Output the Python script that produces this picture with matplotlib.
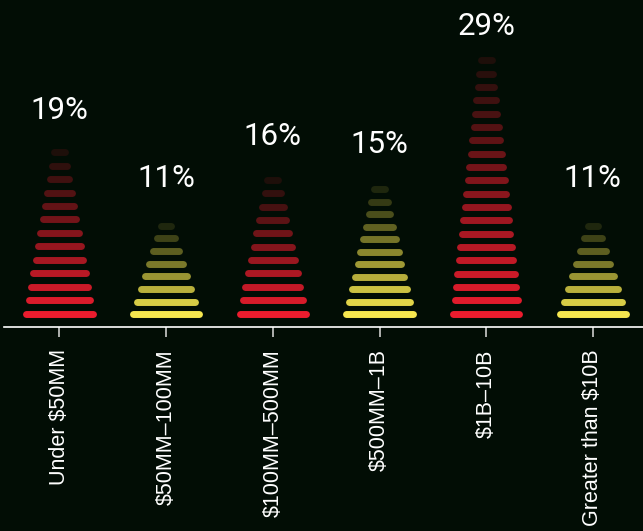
import matplotlib
matplotlib.use("Agg")
import matplotlib.pyplot as plt
import numpy as np
from matplotlib.colors import to_rgb

# data
categories = ["Under $50MM", "$50MM\u2013100MM", "$100MM\u2013500MM",
              "$500MM\u20131B", "$1B\u201310B", "Greater than $10B"]
values = [19, 11, 16, 15, 29, 11]
stripes = [13, 8, 11, 11, 20, 8]
bar_colors = ["#ec1c2e", "#f6e74f", "#ec1c2e", "#f6e74f", "#ec1c2e", "#f6e74f"]

bg = "#020d05"


def fade(color, t):
    # blend colour toward the background, t=1 full colour
    c = np.array(to_rgb(color))
    b = np.array(to_rgb(bg))
    return tuple(b + (c - b) * t)


fig = plt.figure(figsize=(6.43, 5.31), dpi=100, facecolor=bg)
ax = fig.add_axes([4 / 643, 1 - 327 / 531, 639 / 643, 327 / 531])
ax.set_facecolor(bg)

lw_pt = 5.0
cap = lw_pt * 100 / 72 / 106.7  # half cap width in data units (both caps)

for i, (v, n, col) in enumerate(zip(values, stripes, bar_colors)):
    for k in range(n):
        y = v * (k + 1) / n
        frac = k / (n - 1)
        width = 0.685 - (0.685 - 0.165) * frac
        half = (width - cap) / 2
        ax.plot([i - half, i + half], [y, y], color=fade(col, 1 - 0.88 * frac),
                lw=lw_pt, solid_capstyle="round")
    ax.text(i, 0.92 * v + 6, f"{v}%", ha="center", va="center",
            color="white", fontsize=22.5, family="Roboto")

ax.set_xlim(-0.52, 5.47)
ax.set_ylim(0, 327 / 9.2)
ax.set_xticks(range(len(categories)))
ax.set_xticklabels(categories, rotation=90, color="white", fontsize=15.5,
                   family="Liberation Sans", va="top")
ax.tick_params(axis="x", colors="#cccccc", length=7, width=1.2, pad=9,
               labelcolor="white")
ax.set_yticks([])
for s in ["top", "right", "left"]:
    ax.spines[s].set_visible(False)
ax.spines["bottom"].set_color("white")
ax.spines["bottom"].set_linewidth(1.2)

fig.savefig("out.png", dpi=100, facecolor=bg)
